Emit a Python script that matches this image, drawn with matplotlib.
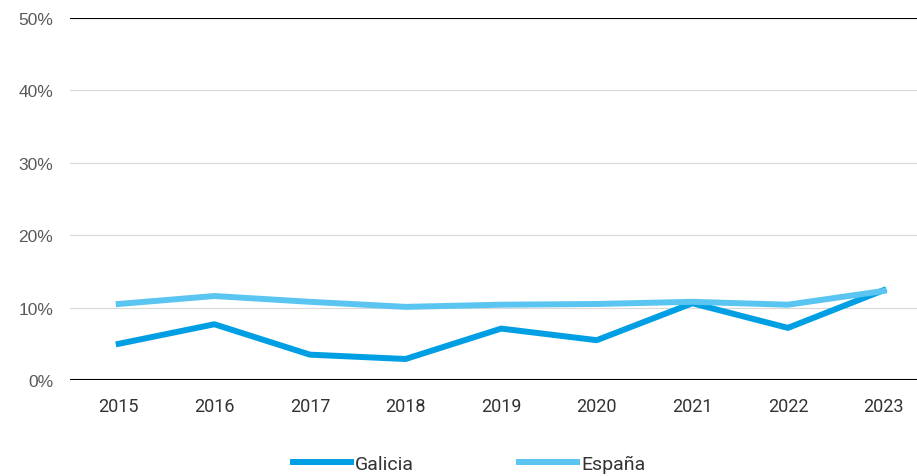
import matplotlib.pyplot as plt
from matplotlib.ticker import FuncFormatter

years = ['2015', '2016', '2017', '2018', '2019', '2020', '2021', '2022', '2023']
galicia = [5.0, 7.7, 3.5, 2.9, 7.1, 5.5, 10.6, 7.2, 12.4]
espana = [10.5, 11.6, 10.8, 10.1, 10.4, 10.5, 10.8, 10.4, 12.3]

fig = plt.figure(figsize=(9.17, 4.77), dpi=100)
ax = fig.add_axes([70 / 917, 1 - 381 / 477, 847 / 917, 362 / 477])

x = range(len(years))
ax.plot(x, galicia, color='#009fe3', lw=4.3, label='Galicia', zorder=3)
ax.plot(x, espana, color='#5bc5f2', lw=4.3, label='España', zorder=3)

ax.set_ylim(0, 50)
ax.set_xlim(-0.51, 8.35)
ax.set_yticks([0, 10, 20, 30, 40, 50])
ax.yaxis.set_major_formatter(FuncFormatter(lambda v, p: f'{v:.0f}%'))
ax.set_xticks(list(x))
ax.set_xticklabels(years, family='Roboto', fontsize=13, color='#333333')
for lab in ax.get_yticklabels():
    lab.set_fontsize(12.5)
    lab.set_family('Liberation Sans')
    lab.set_color('#595959')

ax.grid(axis='y', color='#d9d9d9', lw=0.8)
ax.axhline(50, color='black', lw=1.5, zorder=2)
ax.axhline(0, color='black', lw=1.5, zorder=2)
for s in ax.spines.values():
    s.set_visible(False)
ax.tick_params(axis='both', length=0)
ax.tick_params(axis='y', pad=12)
ax.tick_params(axis='x', pad=12)

leg = fig.legend(loc='center', bbox_to_anchor=(469 / 917, 1 - 465 / 477), ncol=2,
                 frameon=False, handlelength=3.0, columnspacing=5.4,
                 handletextpad=0.2,
                 prop={'family': 'Roboto', 'size': 14})
for t in leg.get_texts():
    t.set_color('#333333')

fig.savefig('out.png', dpi=100)
